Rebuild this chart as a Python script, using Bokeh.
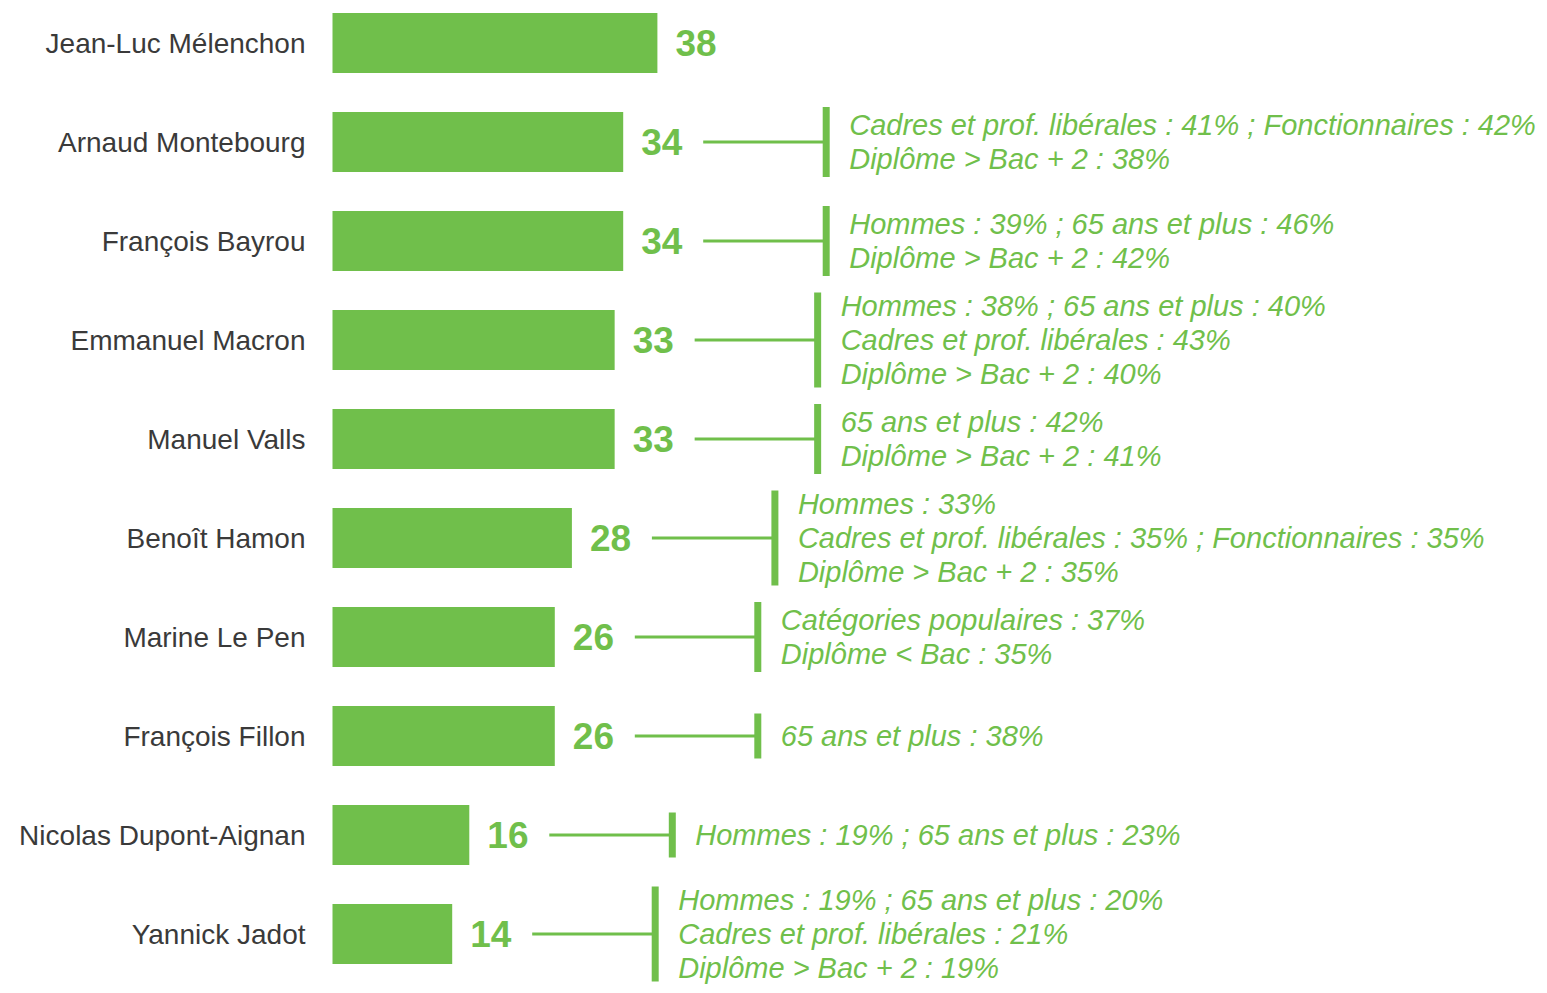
from bokeh.plotting import figure
from bokeh.models import Range1d, ColumnDataSource
from bokeh.core.properties import value
from bokeh.embed import file_html
from bokeh.resources import INLINE

names = ["Jean-Luc Mélenchon", "Arnaud Montebourg", "François Bayrou", "Emmanuel Macron",
         "Manuel Valls", "Benoît Hamon", "Marine Le Pen", "François Fillon",
         "Nicolas Dupont-Aignan", "Yannick Jadot"]
values = [38, 34, 34, 33, 33, 28, 26, 26, 16, 14]
details = [
    [],
    ["Cadres et prof. libérales : 41% ; Fonctionnaires : 42%", "Diplôme > Bac + 2 : 38%"],
    ["Hommes : 39% ; 65 ans et plus : 46%", "Diplôme > Bac + 2 : 42%"],
    ["Hommes : 38% ; 65 ans et plus : 40%", "Cadres et prof. libérales : 43%", "Diplôme > Bac + 2 : 40%"],
    ["65 ans et plus : 42%", "Diplôme > Bac + 2 : 41%"],
    ["Hommes : 33%", "Cadres et prof. libérales : 35% ; Fonctionnaires : 35%", "Diplôme > Bac + 2 : 35%"],
    ["Catégories populaires : 37%", "Diplôme < Bac : 35%"],
    ["65 ans et plus : 38%"],
    ["Hommes : 19% ; 65 ans et plus : 23%"],
    ["Hommes : 19% ; 65 ans et plus : 20%", "Cadres et prof. libérales : 21%", "Diplôme > Bac + 2 : 19%"],
]

GREEN = "#70BF4B"
DARK = "#3a3a3a"
W, H = 1539, 985
PXU = 8.55          # pixels per percentage point
ROW = 99.0          # pixels per row
LINE = 34.0         # annotation line spacing in pixels
x0 = -332 / PXU
y_top = -42.5 / ROW

p = figure(width=W, height=H, output_backend="svg", toolbar_location=None,
           x_range=Range1d(x0, x0 + W / PXU),
           y_range=Range1d(y_top + H / ROW, y_top),
           min_border=0, min_border_left=0, min_border_right=0,
           min_border_top=0, min_border_bottom=0)
p.xaxis.visible = False
p.yaxis.visible = False
p.xgrid.visible = False
p.ygrid.visible = False
p.outline_line_color = None
p.background_fill_color = "white"

idx = list(range(len(names)))
src = ColumnDataSource(dict(y=idx, v=values, names=names,
                            lab=[str(v) for v in values]))

p.hbar(y="y", left=0, right="v", height=60 / ROW, source=src,
       fill_color=GREEN, line_color=None)

p.text(x=0, y="y", text="names", source=src, x_offset=-27,
       text_align="right", text_baseline="middle",
       text_font=value("Liberation Sans"), text_font_size="28px", text_color=DARK)

p.text(x="v", y="y", text="lab", source=src, x_offset=18,
       text_align="left", text_baseline="middle",
       text_font=value("Liberation Sans"), text_font_size="37px",
       text_font_style="bold", text_color=GREEN)

# connectors and annotations
hx0, hx1, hy, vx, vy0, vy1 = [], [], [], [], [], []
tx, ty, tt = [], [], []
for i, (v, det) in enumerate(zip(values, details)):
    n = len(det)
    if n == 0:
        continue
    a = v + 80 / PXU
    b = v + 203 / PXU
    hx0.append(a); hx1.append(b); hy.append(i)
    half = (20 + 25 * n) / 2 / ROW
    vx.append(b); vy0.append(i - half); vy1.append(i + half)
    for k, line in enumerate(det):
        tx.append(b + 23 / PXU)
        ty.append(i + (k - (n - 1) / 2) * LINE / ROW)
        tt.append(line)

p.segment(x0=hx0, y0=hy, x1=hx1, y1=hy, line_color=GREEN, line_width=3)
p.segment(x0=vx, y0=vy0, x1=vx, y1=vy1, line_color=GREEN, line_width=7)
p.text(x=tx, y=ty, text=tt, text_align="left", text_baseline="middle",
       text_font=value("Liberation Sans"), text_font_size="29px",
       text_font_style="italic", text_color=GREEN)

open("out.html", "w").write(file_html(p, INLINE))
